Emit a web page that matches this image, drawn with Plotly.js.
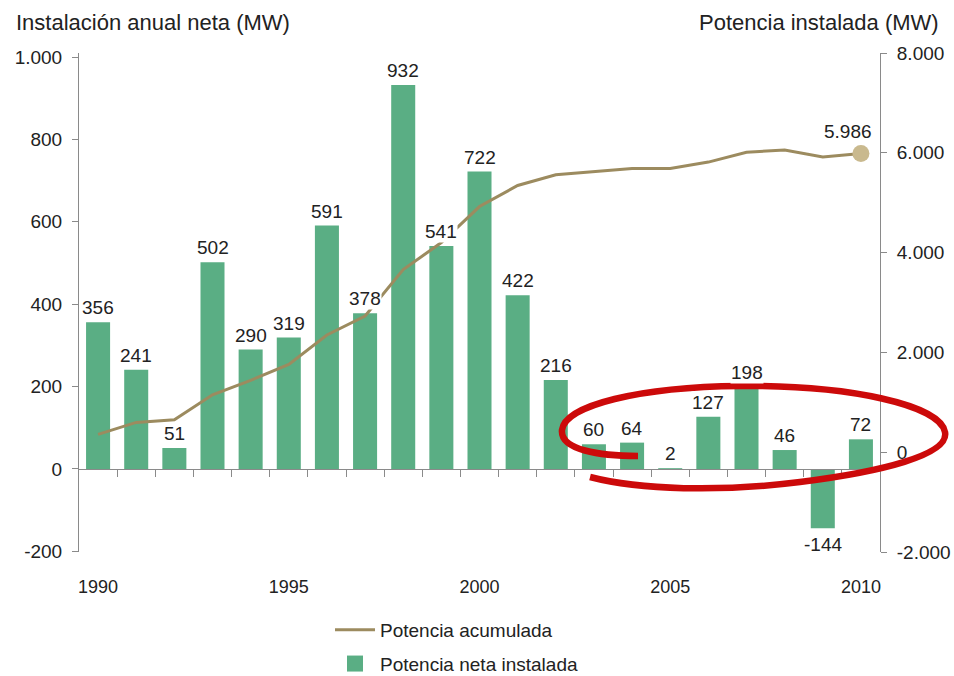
<!DOCTYPE html>
<html>
<head>
<meta charset="utf-8">
<script src="https://cdn.plot.ly/plotly-3.0.1.min.js"></script>
<style>
  html, body { margin: 0; padding: 0; background: #ffffff; }
  #chart { width: 954px; height: 676px; }
</style>
</head>
<body>
<div id="chart"></div>
<script>
// ---- data ----
const years = [1990, 1991, 1992, 1993, 1994, 1995, 1996, 1997, 1998, 1999, 2000,
               2001, 2002, 2003, 2004, 2005, 2006, 2007, 2008, 2009, 2010];
const netInstalled = [356, 241, 51, 502, 290, 319, 591, 378, 932, 541, 722,
                      422, 216, 60, 64, 2, 127, 198, 46, -144, 72];
const cumulative = [356, 597, 648, 1150, 1440, 1759, 2350, 2728, 3660, 4201, 4923,
                    5345, 5561, 5621, 5685, 5687, 5814, 6012, 6058, 5914, 5986];
const leftTickVals = [-200, 0, 200, 400, 600, 800, 1000];
const leftTickText = ['-200', '0', '200', '400', '600', '800', '1.000'];
const rightTickVals = [-2000, 0, 2000, 4000, 6000, 8000];
const rightTickText = ['-2.000', '0', '2.000', '4.000', '6.000', '8.000'];
const yearLabels = [1990, 1995, 2000, 2005, 2010];
const seriesNames = ['Potencia neta instalada', 'Potencia acumulada'];
const leftTitle = 'Instalación anual neta (MW)';
const rightTitle = 'Potencia instalada (MW)';

// ---- layout constants ----
const W = 954, H = 676;
const M = { l: 79, r: 74, t: 53, b: 124 };
const plotW = W - M.l - M.r, plotH = H - M.t - M.b;
const FONT = 'Liberation Sans, Arial, Helvetica, sans-serif';
const TXT = '#222222';
const AX = '#8a8a8a';
const GREEN = '#5aae84';
const leftRange = [-201.5, 1009.7];
const rightRange = [-2000, 8000];
const xRange = [1989.5, 2010.5];

function fmt(v) {
  return String(v).replace(/\B(?=(\d{3})+(?!\d))/g, '.');
}
function px(x) { return (x - M.l) / plotW; }
function py(y) { return (H - M.b - y) / plotH; }

const bars = {
  type: 'bar',
  x: years,
  y: netInstalled,
  xaxis: 'x', yaxis: 'y',
  name: seriesNames[0],
  showlegend: false,
  marker: { color: GREEN, line: { width: 0 } },
  hoverinfo: 'x+y'
};

// legend proxy for the bar series (larger swatch, like the reference)
const barLegend = {
  type: 'scatter',
  mode: 'markers',
  x: [null], y: [null],
  xaxis: 'x', yaxis: 'y',
  name: seriesNames[0],
  legendgroup: 'bars',
  legendrank: 2,
  marker: { color: GREEN, symbol: 'square', size: 20 },
  hoverinfo: 'skip'
};

const line = {
  type: 'scatter',
  mode: 'lines',
  x: years,
  y: cumulative,
  xaxis: 'x2', yaxis: 'y2',
  name: seriesNames[1],
  legendgroup: 'line',
  legendrank: 1,
  line: { color: '#9c8b5f', width: 3 },
  hoverinfo: 'x+y'
};

const lastIdx = years.length - 1;
const endPoint = {
  type: 'scatter',
  mode: 'markers',
  x: [years[lastIdx]],
  y: [cumulative[lastIdx]],
  xaxis: 'x2', yaxis: 'y2',
  showlegend: false,
  marker: { color: '#c9b98e', size: 17 },
  hoverinfo: 'skip'
};

const barLabels = years.map((yr, i) => ({
  x: yr, y: netInstalled[i], xref: 'x', yref: 'y',
  text: fmt(netInstalled[i]),
  showarrow: false,
  yanchor: netInstalled[i] >= 0 ? 'bottom' : 'top',
  yshift: netInstalled[i] >= 0 ? 3 : -5,
  bgcolor: 'rgba(255,255,255,1)',
  borderpad: 0,
  font: { family: FONT, size: 19, color: TXT }
}));

const endLabel = {
  x: years[lastIdx], y: cumulative[lastIdx], xref: 'x2', yref: 'y2',
  text: fmt(cumulative[lastIdx]),
  showarrow: false,
  xanchor: 'center', yanchor: 'middle',
  xshift: -13, yshift: 22,
  font: { family: FONT, size: 19, color: TXT }
};

const titleAnns = [
  { xref: 'paper', yref: 'paper', x: px(14), y: py(22), xanchor: 'left', yanchor: 'middle',
    text: leftTitle, showarrow: false, font: { family: FONT, size: 22, color: TXT } },
  { xref: 'paper', yref: 'paper', x: px(941), y: py(22), xanchor: 'right', yanchor: 'middle',
    text: rightTitle, showarrow: false, font: { family: FONT, size: 22, color: TXT } }
];

// hand-drawn red highlight (paper coordinates)
const P = (x, y) => px(x).toFixed(4) + ',' + py(y).toFixed(4);
const ellipsePath =
  'M' + P(590, 477) +
  ' C' + P(640, 490) + ' ' + P(720, 492) + ' ' + P(800, 482) +
  ' C' + P(880, 472) + ' ' + P(950, 455) + ' ' + P(945, 432) +
  ' C' + P(940, 405) + ' ' + P(850, 385) + ' ' + P(740, 386) +
  ' C' + P(640, 387) + ' ' + P(565, 405) + ' ' + P(562, 430) +
  ' C' + P(560, 450) + ' ' + P(600, 456) + ' ' + P(638, 456);

const zeroPos = (0 - leftRange[0]) / (leftRange[1] - leftRange[0]);

const layout = {
  width: W, height: H,
  margin: M,
  paper_bgcolor: '#ffffff',
  plot_bgcolor: '#ffffff',
  separators: ',.',
  font: { family: FONT, size: 19, color: TXT },
  showlegend: true,
  bargap: 0.37,
  legend: {
    orientation: 'v',
    xref: 'paper', yref: 'container',
    x: px(330), xanchor: 'left',
    y: 1 - 611 / H, yanchor: 'top',
    font: { family: FONT, size: 19, color: TXT },
    bgcolor: 'rgba(0,0,0,0)',
    tracegroupgap: 6,
    itemwidth: 40
  },
  xaxis: {
    range: xRange,
    anchor: 'free',
    position: zeroPos,
    showline: true, linecolor: AX, linewidth: 1,
    ticks: 'outside', ticklen: 7, tickcolor: AX, tickwidth: 1,
    tickvals: years.slice(0, -1).map(v => v + 0.5),
    showticklabels: false,
    showgrid: false, zeroline: false, fixedrange: true
  },
  xaxis2: {
    range: xRange,
    overlaying: 'x',
    anchor: 'y2',
    side: 'bottom',
    showline: false,
    ticks: 'outside', ticklen: 18, tickcolor: 'rgba(0,0,0,0)',
    tickvals: yearLabels,
    ticktext: yearLabels.map(String),
    tickfont: { family: FONT, size: 18, color: TXT },
    showgrid: false, zeroline: false, fixedrange: true
  },
  yaxis: {
    range: leftRange,
    anchor: 'x',
    side: 'left',
    showline: true, linecolor: AX, linewidth: 1,
    ticks: 'outside', ticklen: 6, tickcolor: AX,
    tickvals: leftTickVals, ticktext: leftTickText,
    tickfont: { family: FONT, size: 19, color: TXT },
    ticklabelstandoff: 6,
    showgrid: false, zeroline: false, fixedrange: true
  },
  yaxis2: {
    range: rightRange,
    overlaying: 'y',
    anchor: 'x2',
    side: 'right',
    showline: true, linecolor: AX, linewidth: 1,
    ticks: 'outside', ticklen: 6, tickcolor: AX,
    tickvals: rightTickVals, ticktext: rightTickText,
    tickfont: { family: FONT, size: 19, color: TXT },
    ticklabelstandoff: 6,
    showgrid: false, zeroline: false, fixedrange: true
  },
  annotations: barLabels.concat([endLabel], titleAnns),
  shapes: [{
    type: 'path', xref: 'paper', yref: 'paper',
    path: ellipsePath,
    line: { color: '#cc0a0a', width: 6.5 },
    layer: 'above'
  }]
};

Plotly.newPlot('chart', [bars, line, endPoint, barLegend], layout, { displayModeBar: false, staticPlot: true });
</script>
</body>
</html>
